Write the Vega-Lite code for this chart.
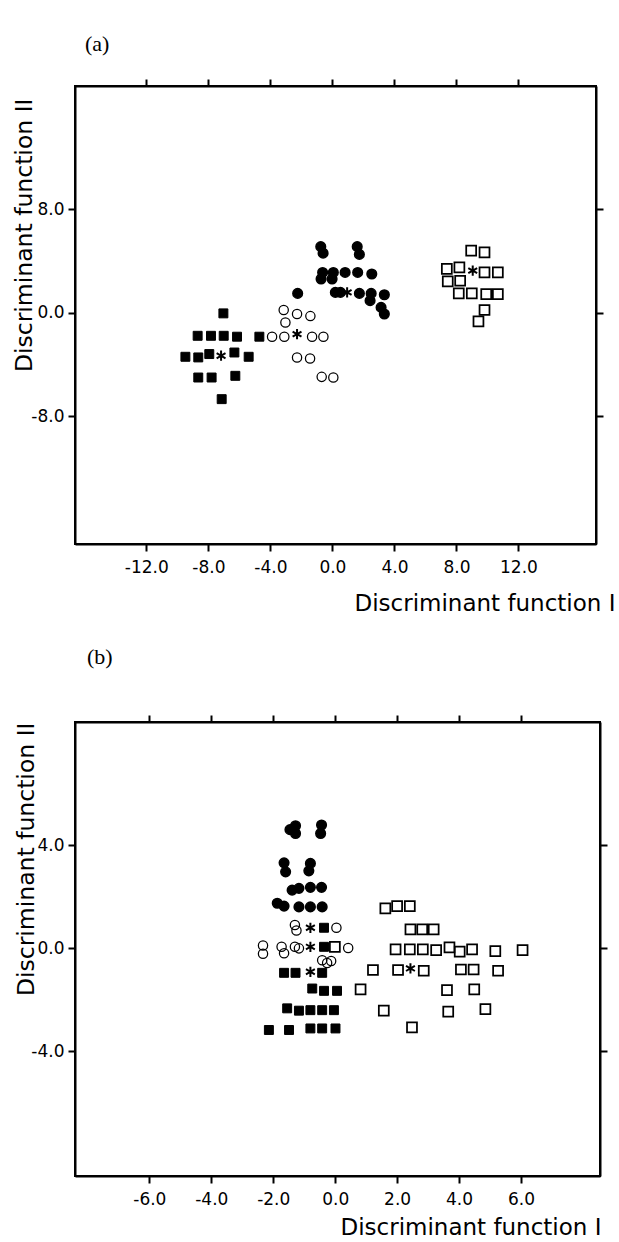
{
  "$schema": "https://vega.github.io/schema/vega-lite/v6.json",
  "background": "white",
  "padding": {"left": 10, "top": 32, "right": 0, "bottom": 0},
  "spacing": 29,
  "config": {
    "view": {"stroke": "black", "strokeWidth": 2},
    "axis": {
      "grid": false,
      "labelFont": "DejaVu Sans",
      "labelFontSize": 17,
      "labelColor": "black",
      "tickColor": "black",
      "tickSize": 7,
      "tickWidth": 2,
      "domainColor": "black",
      "domainWidth": 2,
      "titleFont": "DejaVu Sans",
      "titleFontWeight": "normal",
      "titleColor": "black"
    },
    "title": {"font": "Liberation Serif", "fontSize": 22, "fontWeight": "normal", "color": "black", "anchor": "start", "frame": "group"}
  },
  "vconcat": [
    {
      "title": {"text": "(a)", "offset": 22, "dx": 10},
      "width": 521,
      "height": 458,
      "data": {"values": [
        {"p": "a", "g": "fc", "x": -0.75, "y": 5.1},
        {"p": "a", "g": "fc", "x": -0.6, "y": 4.6},
        {"p": "a", "g": "fc", "x": 1.6, "y": 5.1},
        {"p": "a", "g": "fc", "x": 1.74, "y": 4.5},
        {"p": "a", "g": "fc", "x": -0.63, "y": 3.11},
        {"p": "a", "g": "fc", "x": -0.73, "y": 2.6},
        {"p": "a", "g": "fc", "x": 0.06, "y": 3.11},
        {"p": "a", "g": "fc", "x": -0.02, "y": 2.6},
        {"p": "a", "g": "fc", "x": 0.82, "y": 3.11},
        {"p": "a", "g": "fc", "x": 1.63, "y": 3.11},
        {"p": "a", "g": "fc", "x": 2.54, "y": 2.99},
        {"p": "a", "g": "fc", "x": -2.24, "y": 1.49},
        {"p": "a", "g": "fc", "x": 0.19, "y": 1.57},
        {"p": "a", "g": "fc", "x": 0.52, "y": 1.57},
        {"p": "a", "g": "fc", "x": 1.74, "y": 1.49},
        {"p": "a", "g": "fc", "x": 2.5, "y": 1.49},
        {"p": "a", "g": "fc", "x": 2.43, "y": 0.93},
        {"p": "a", "g": "fc", "x": 3.35, "y": 1.39},
        {"p": "a", "g": "fc", "x": 3.14, "y": 0.41},
        {"p": "a", "g": "fc", "x": 3.35, "y": -0.1},
        {"p": "a", "g": "oc", "x": -3.14, "y": 0.21},
        {"p": "a", "g": "oc", "x": -3.03, "y": -0.75},
        {"p": "a", "g": "oc", "x": -2.28, "y": -0.1},
        {"p": "a", "g": "oc", "x": -1.42, "y": -0.26},
        {"p": "a", "g": "oc", "x": -3.89, "y": -1.85},
        {"p": "a", "g": "oc", "x": -3.1, "y": -1.85},
        {"p": "a", "g": "oc", "x": -1.31, "y": -1.85},
        {"p": "a", "g": "oc", "x": -0.58, "y": -1.85},
        {"p": "a", "g": "oc", "x": -2.28, "y": -3.45},
        {"p": "a", "g": "oc", "x": -1.44, "y": -3.53},
        {"p": "a", "g": "oc", "x": -0.69, "y": -4.95},
        {"p": "a", "g": "oc", "x": 0.06, "y": -5.0},
        {"p": "a", "g": "fs", "x": -7.03, "y": -0.05},
        {"p": "a", "g": "fs", "x": -8.69, "y": -1.78},
        {"p": "a", "g": "fs", "x": -7.83, "y": -1.78},
        {"p": "a", "g": "fs", "x": -7.01, "y": -1.78},
        {"p": "a", "g": "fs", "x": -6.15, "y": -1.85},
        {"p": "a", "g": "fs", "x": -4.71, "y": -1.85},
        {"p": "a", "g": "fs", "x": -9.48, "y": -3.4},
        {"p": "a", "g": "fs", "x": -8.65, "y": -3.45},
        {"p": "a", "g": "fs", "x": -7.94, "y": -3.19},
        {"p": "a", "g": "fs", "x": -6.32, "y": -3.07},
        {"p": "a", "g": "fs", "x": -5.4, "y": -3.4},
        {"p": "a", "g": "fs", "x": -8.65, "y": -5.0},
        {"p": "a", "g": "fs", "x": -7.79, "y": -5.0},
        {"p": "a", "g": "fs", "x": -6.26, "y": -4.87},
        {"p": "a", "g": "fs", "x": -7.14, "y": -6.67},
        {"p": "a", "g": "os", "x": 8.95, "y": 4.79},
        {"p": "a", "g": "os", "x": 9.81, "y": 4.66},
        {"p": "a", "g": "os", "x": 7.38, "y": 3.38},
        {"p": "a", "g": "os", "x": 8.19, "y": 3.5},
        {"p": "a", "g": "os", "x": 9.81, "y": 3.11},
        {"p": "a", "g": "os", "x": 10.67, "y": 3.11},
        {"p": "a", "g": "os", "x": 7.44, "y": 2.42},
        {"p": "a", "g": "os", "x": 8.24, "y": 2.47},
        {"p": "a", "g": "os", "x": 8.15, "y": 1.49},
        {"p": "a", "g": "os", "x": 8.99, "y": 1.49},
        {"p": "a", "g": "os", "x": 9.92, "y": 1.44},
        {"p": "a", "g": "os", "x": 10.67, "y": 1.44},
        {"p": "a", "g": "os", "x": 9.81, "y": 0.21},
        {"p": "a", "g": "os", "x": 9.42, "y": -0.67},
        {"p": "a", "g": "ast", "x": 0.95, "y": 1.57},
        {"p": "a", "g": "ast", "x": -2.28, "y": -1.65},
        {"p": "a", "g": "ast", "x": -7.18, "y": -3.32},
        {"p": "a", "g": "ast", "x": 9.05, "y": 3.25}
      ]},
      "layer": [
        {
          "mark": {"type": "point", "filled": true, "stroke": "black", "opacity": 1},
          "encoding": {
            "x": {"field": "x", "type": "quantitative",
              "scale": {"domain": [-16.6, 17.0], "nice": false, "zero": false},
              "axis": {"values": [-12, -8, -4, 0, 4, 8, 12], "labelExpr": "replace(format(datum.value, '.1f'), '\u2212', '-')", "labelPadding": 8,
                "title": "Discriminant function I", "titleFontSize": 23,
                "titleX": 540, "titleY": 66, "titleAlign": "right", "titleBaseline": "alphabetic"}},
            "y": {"field": "y", "type": "quantitative",
              "scale": {"domain": [-17.85, 17.5], "nice": false, "zero": false},
              "axis": {"values": [-8, 0, 8], "labelExpr": "replace(format(datum.value, '.1f'), '\u2212', '-')", "labelPadding": 4,
                "title": "Discriminant function II", "titleFontSize": 23.5,
                "titleX": -44, "titleY": 12, "titleAngle": -90, "titleAlign": "right", "titleBaseline": "alphabetic"}},
            "shape": {"field": "g", "type": "nominal", "legend": null,
              "scale": {"domain": ["fs", "oc", "fc", "os", "ast"],
                "range": ["square", "circle", "circle", "square", "M0,-1L0,1M-0.866,-0.5L0.866,0.5M-0.866,0.5L0.866,-0.5"]}},
            "fill": {"field": "g", "type": "nominal", "legend": null,
              "scale": {"domain": ["fs", "oc", "fc", "os", "ast"],
                "range": ["black", "transparent", "black", "transparent", "black"]}},
            "size": {"field": "g", "type": "nominal", "legend": null,
              "scale": {"domain": ["fs", "oc", "fc", "os", "ast"], "range": [80, 105, 62, 85, 300]}},
            "strokeWidth": {"field": "g", "type": "nominal", "legend": null,
              "scale": {"domain": ["fs", "oc", "fc", "os", "ast"], "range": [1, 2, 1, 2.2, 2.6]}}
          }
        },
        {
          "mark": {"type": "point", "opacity": 0},
          "encoding": {
            "x": {"field": "x", "type": "quantitative",
              "scale": {"domain": [-16.6, 17.0], "nice": false, "zero": false},
              "axis": {"orient": "top", "values": [-12, -8, -4, 0, 4, 8, 12], "labels": false, "title": null}},
            "y": {"field": "y", "type": "quantitative",
              "scale": {"domain": [-17.85, 17.5], "nice": false, "zero": false},
              "axis": {"orient": "right", "values": [-8, 0, 8], "labels": false, "title": null}}
          }
        }
      ],
      "resolve": {"axis": {"x": "independent", "y": "independent"}}
    },
    {
      "title": {"text": "(b)", "offset": 45, "dx": 12},
      "width": 525,
      "height": 454,
      "data": {"values": [
        {"p": "b", "g": "fc", "x": -1.46, "y": 4.6},
        {"p": "b", "g": "fc", "x": -1.28, "y": 4.75},
        {"p": "b", "g": "fc", "x": -1.28, "y": 4.45},
        {"p": "b", "g": "fc", "x": -0.44, "y": 4.78},
        {"p": "b", "g": "fc", "x": -0.47, "y": 4.45},
        {"p": "b", "g": "fc", "x": -1.65, "y": 3.31},
        {"p": "b", "g": "fc", "x": -1.6, "y": 2.96},
        {"p": "b", "g": "fc", "x": -0.8, "y": 3.29},
        {"p": "b", "g": "fc", "x": -0.85, "y": 3.0},
        {"p": "b", "g": "fc", "x": -1.39, "y": 2.25},
        {"p": "b", "g": "fc", "x": -1.17, "y": 2.32},
        {"p": "b", "g": "fc", "x": -0.8, "y": 2.36},
        {"p": "b", "g": "fc", "x": -0.44, "y": 2.36},
        {"p": "b", "g": "fc", "x": -1.87, "y": 1.74},
        {"p": "b", "g": "fc", "x": -1.65, "y": 1.63},
        {"p": "b", "g": "fc", "x": -1.17, "y": 1.6},
        {"p": "b", "g": "fc", "x": -0.8, "y": 1.6},
        {"p": "b", "g": "fc", "x": -0.42, "y": 1.6},
        {"p": "b", "g": "oc", "x": -1.3, "y": 0.9},
        {"p": "b", "g": "oc", "x": -1.25, "y": 0.68},
        {"p": "b", "g": "oc", "x": 0.04, "y": 0.79},
        {"p": "b", "g": "oc", "x": -2.33, "y": 0.1},
        {"p": "b", "g": "oc", "x": -2.33, "y": -0.22},
        {"p": "b", "g": "oc", "x": -1.73, "y": 0.05},
        {"p": "b", "g": "oc", "x": -1.65, "y": -0.2},
        {"p": "b", "g": "oc", "x": -1.3, "y": 0.05},
        {"p": "b", "g": "oc", "x": -1.17, "y": -0.01},
        {"p": "b", "g": "oc", "x": 0.42, "y": 0.0},
        {"p": "b", "g": "oc", "x": -0.42, "y": -0.47},
        {"p": "b", "g": "oc", "x": -0.26, "y": -0.58},
        {"p": "b", "g": "oc", "x": -0.13, "y": -0.5},
        {"p": "b", "g": "fs", "x": -0.36, "y": 0.79},
        {"p": "b", "g": "fs", "x": -0.36, "y": 0.05},
        {"p": "b", "g": "fs", "x": -1.65, "y": -0.96},
        {"p": "b", "g": "fs", "x": -1.28, "y": -0.96},
        {"p": "b", "g": "fs", "x": -0.42, "y": -0.96},
        {"p": "b", "g": "fs", "x": -0.74, "y": -1.57},
        {"p": "b", "g": "fs", "x": -0.36, "y": -1.66},
        {"p": "b", "g": "fs", "x": 0.06, "y": -1.66},
        {"p": "b", "g": "fs", "x": -1.55, "y": -2.34},
        {"p": "b", "g": "fs", "x": -1.17, "y": -2.43},
        {"p": "b", "g": "fs", "x": -0.8, "y": -2.41},
        {"p": "b", "g": "fs", "x": -0.42, "y": -2.41},
        {"p": "b", "g": "fs", "x": -0.04, "y": -2.41},
        {"p": "b", "g": "fs", "x": -2.14, "y": -3.18},
        {"p": "b", "g": "fs", "x": -1.49, "y": -3.18},
        {"p": "b", "g": "fs", "x": -0.8, "y": -3.12},
        {"p": "b", "g": "fs", "x": -0.42, "y": -3.12},
        {"p": "b", "g": "fs", "x": 0.01, "y": -3.12},
        {"p": "b", "g": "os", "x": -0.01, "y": 0.05},
        {"p": "b", "g": "os", "x": 0.82, "y": -1.6},
        {"p": "b", "g": "os", "x": 1.62, "y": 1.54},
        {"p": "b", "g": "os", "x": 2.0, "y": 1.63},
        {"p": "b", "g": "os", "x": 2.41, "y": 1.63},
        {"p": "b", "g": "os", "x": 2.43, "y": 0.73},
        {"p": "b", "g": "os", "x": 2.81, "y": 0.73},
        {"p": "b", "g": "os", "x": 3.18, "y": 0.73},
        {"p": "b", "g": "os", "x": 1.95, "y": -0.05},
        {"p": "b", "g": "os", "x": 2.41, "y": -0.05},
        {"p": "b", "g": "os", "x": 2.83, "y": -0.05},
        {"p": "b", "g": "os", "x": 3.26, "y": -0.08},
        {"p": "b", "g": "os", "x": 3.69, "y": 0.03},
        {"p": "b", "g": "os", "x": 4.02, "y": -0.14},
        {"p": "b", "g": "os", "x": 4.42, "y": -0.05},
        {"p": "b", "g": "os", "x": 5.17, "y": -0.12},
        {"p": "b", "g": "os", "x": 6.05, "y": -0.08},
        {"p": "b", "g": "os", "x": 1.22, "y": -0.85},
        {"p": "b", "g": "os", "x": 2.03, "y": -0.85},
        {"p": "b", "g": "os", "x": 2.86, "y": -0.88},
        {"p": "b", "g": "os", "x": 4.06, "y": -0.83},
        {"p": "b", "g": "os", "x": 4.47, "y": -0.83},
        {"p": "b", "g": "os", "x": 5.26, "y": -0.88},
        {"p": "b", "g": "os", "x": 3.61, "y": -1.63},
        {"p": "b", "g": "os", "x": 4.49, "y": -1.6},
        {"p": "b", "g": "os", "x": 1.57, "y": -2.43},
        {"p": "b", "g": "os", "x": 3.65, "y": -2.47},
        {"p": "b", "g": "os", "x": 4.85, "y": -2.37},
        {"p": "b", "g": "os", "x": 2.48, "y": -3.08},
        {"p": "b", "g": "ast", "x": -0.8, "y": 0.79},
        {"p": "b", "g": "ast", "x": -0.8, "y": 0.05},
        {"p": "b", "g": "ast", "x": -0.8, "y": -0.92},
        {"p": "b", "g": "ast", "x": 2.43, "y": -0.79}
      ]},
      "layer": [
        {
          "mark": {"type": "point", "filled": true, "stroke": "black", "opacity": 1},
          "encoding": {
            "x": {"field": "x", "type": "quantitative",
              "scale": {"domain": [-8.4, 8.55], "nice": false, "zero": false},
              "axis": {"values": [-6, -4, -2, 0, 2, 4, 6], "labelExpr": "replace(format(datum.value, '.1f'), '\u2212', '-')", "labelPadding": 8,
                "title": "Discriminant function I", "titleFontSize": 23,
                "titleX": 526, "titleY": 58, "titleAlign": "right", "titleBaseline": "alphabetic"}},
            "y": {"field": "y", "type": "quantitative",
              "scale": {"domain": [-8.85, 8.78], "nice": false, "zero": false},
              "axis": {"values": [-4, 0, 4], "labelExpr": "replace(format(datum.value, '.1f'), '\u2212', '-')", "labelPadding": 4,
                "title": "Discriminant function II", "titleFontSize": 23.5,
                "titleX": -42, "titleY": 0, "titleAngle": -90, "titleAlign": "right", "titleBaseline": "alphabetic"}},
            "shape": {"field": "g", "type": "nominal", "legend": null,
              "scale": {"domain": ["fs", "oc", "fc", "os", "ast"],
                "range": ["square", "circle", "circle", "square", "M0,-1L0,1M-0.866,-0.5L0.866,0.5M-0.866,0.5L0.866,-0.5"]}},
            "fill": {"field": "g", "type": "nominal", "legend": null,
              "scale": {"domain": ["fs", "oc", "fc", "os", "ast"],
                "range": ["black", "transparent", "black", "transparent", "black"]}},
            "size": {"field": "g", "type": "nominal", "legend": null,
              "scale": {"domain": ["fs", "oc", "fc", "os", "ast"], "range": [64, 60, 58, 58, 260]}},
            "strokeWidth": {"field": "g", "type": "nominal", "legend": null,
              "scale": {"domain": ["fs", "oc", "fc", "os", "ast"], "range": [1, 1.8, 1, 2, 2.5]}}
          }
        },
        {
          "mark": {"type": "point", "opacity": 0},
          "encoding": {
            "x": {"field": "x", "type": "quantitative",
              "scale": {"domain": [-8.4, 8.55], "nice": false, "zero": false},
              "axis": {"orient": "top", "values": [-6, -4, -2, 0, 2, 4, 6], "labels": false, "title": null}},
            "y": {"field": "y", "type": "quantitative",
              "scale": {"domain": [-8.85, 8.78], "nice": false, "zero": false},
              "axis": {"orient": "right", "values": [-4, 0, 4], "labels": false, "title": null}}
          }
        }
      ],
      "resolve": {"axis": {"x": "independent", "y": "independent"}}
    }
  ]
}
